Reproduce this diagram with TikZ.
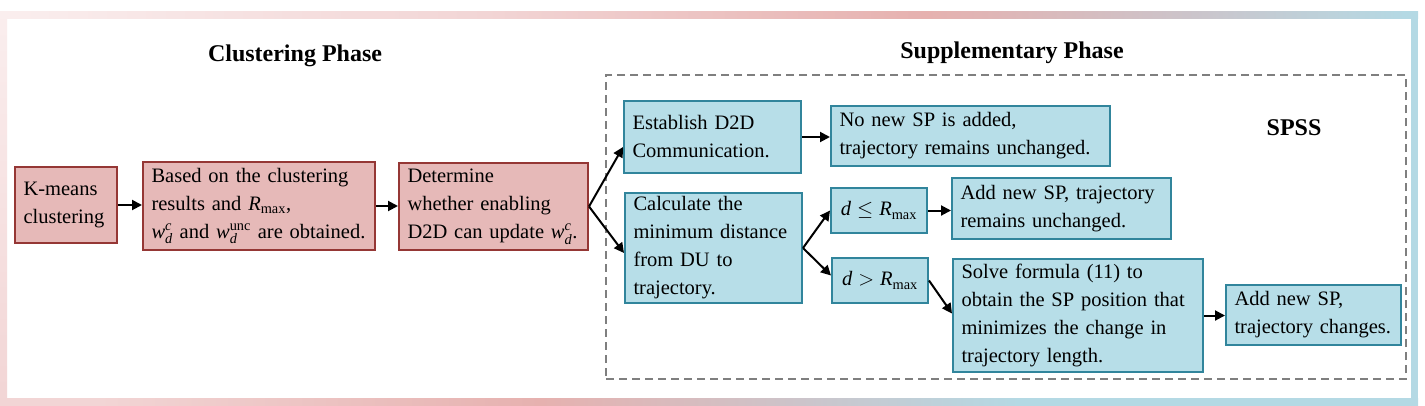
\documentclass[tikz,border=0pt]{standalone}
\usepackage{fontspec}
\usepackage{amsmath}
\setmainfont{Liberation Serif}
\usetikzlibrary{arrows.meta}
\definecolor{gc0}{HTML}{FAEEEE}
\definecolor{gc1}{HTML}{F2D5D5}
\definecolor{gc2}{HTML}{E6B1AF}
\definecolor{gc3}{HTML}{CCC4CA}
\definecolor{gc4}{HTML}{B4D9E4}
\definecolor{pfill}{HTML}{E6B9B8}
\definecolor{pline}{HTML}{953735}
\definecolor{bfill}{HTML}{B7DEE8}
\definecolor{bline}{HTML}{31859C}
\definecolor{dgray}{HTML}{7F7F7F}
\pgfdeclarehorizontalshading{topband}{100bp}{color(0bp)=(gc0); color(25bp)=(gc0); color(42.14bp)=(gc1); color(57.65bp)=(gc2); color(66.82bp)=(gc3); color(74.58bp)=(gc4); color(100bp)=(gc4)}
\pgfdeclarehorizontalshading{botband}{100bp}{color(0bp)=(gc1); color(25bp)=(gc1); color(28.5bp)=(gc1); color(44.04bp)=(gc2); color(53.2bp)=(gc3); color(60.97bp)=(gc4); color(100bp)=(gc4)}
\hyphenpenalty=10000
\exhyphenpenalty=10000
\newcommand\vi[1]{\textit{#1}}
\newcommand\bx[7]{%
  \pgfmathsetmacro\bxCX{(#3+#5)/2}\pgfmathsetmacro\bxCY{(#4+#6)/2}%
  \pgfmathsetmacro\bxW{#5-#3}\pgfmathsetmacro\bxH{#6-#4}\pgfmathsetmacro\bxT{#5-#3-17}%
  \node[#1, minimum width=\bxW pt, minimum height=\bxH pt, text width=\bxT pt] (#2) at (\bxCX,\bxCY) {#7};}
\tikzset{
  boxbase/.style={rectangle, line width=2pt, inner xsep=8.5pt, inner ysep=2pt, align=left,
    font=\fontsize{20.5}{28}\selectfont},
  pbox/.style={boxbase, draw=pline, fill=pfill},
  bbox/.style={boxbase, draw=bline, fill=bfill},
  cbox/.style={bbox, align=center},
  title/.style={font=\fontsize{24}{28}\selectfont\bfseries},
  arr/.style={line width=2pt, -{Triangle[length=10pt,width=10pt]}},
  dashbox/.style={draw=dgray, line width=2pt, dash pattern=on 8pt off 5pt, rectangle, inner sep=0pt}
}
\begin{document}
\begin{tikzpicture}[x=1pt,y=-1pt]
\useasboundingbox (0,0) rectangle (1425,405);
% frame
\fill[white] (0,11) rectangle (1418,405);
\shade[shading=topband] (0,11) rectangle (1418,18);
\shade[shading=botband] (0,398) rectangle (1418,405);
\shade[top color=gc0, bottom color=gc1] (0,11) rectangle (7,405);
\fill[gc4] (1411,11) rectangle (1418,405);
% titles
\node[title] (t1) at (295,56) {Clustering Phase};
\node[title] (t2) at (1012,53) {Supplementary Phase};
\node[dashbox, minimum width=800pt, minimum height=304pt] (spz) at (1006,227) {};
\node[title] (t3) at (1294,128) {SPSS};
% clustering boxes
\bx{pbox}{k}{15}{167}{117}{243}{K-means\\clustering}
\bx{pbox}{b2}{143}{162}{375}{250}{Based on the clustering\\results and $\vi{R}_{\text{max}}$,\\$\vi{w}_{\vi{d}}^{\vi{c}}$ and $\vi{w}_{\vi{d}}^{\text{unc}}$ are obtained.}
\bx{pbox}{b3}{399}{163}{588}{250}{Determine\\whether enabling\\D2D can update $\vi{w}_{\vi{d}}^{\vi{c}}$.}
% supplementary boxes
\bx{bbox}{e}{624}{101}{801}{173}{Establish D2D\\Communication.}
\bx{bbox}{n}{831}{106}{1110}{166}{No new SP is added,\\trajectory remains unchanged.}
\bx{bbox}{c}{625}{193}{802}{303}{Calculate the\\minimum distance\\from DU to\\trajectory.}
\bx{cbox}{d1}{831}{188}{927}{233}{$\vi{d}\le \vi{R}_{\text{max}}$}
\bx{cbox}{d2}{832}{258}{928}{303}{$\vi{d} > \vi{R}_{\text{max}}$}
\bx{bbox}{a1}{952}{178}{1171}{239}{Add new SP, trajectory\\remains unchanged.}
\bx{bbox}{s}{953}{259}{1203}{372}{Solve formula (11) to\\obtain the SP position that\\minimizes the change in\\trajectory length.}
\bx{bbox}{a2}{1226}{285}{1401}{345}{Add new SP,\\trajectory changes.}
% connectors
\draw[arr] (k.east) -- (k.east -| b2.west);
\draw[arr] (b2.east) -- (b2.east -| b3.west);
\draw[arr] (b3.east) -- ([yshift=-10pt]e.west);
\draw[arr] (b3.east) -- ([yshift=-5pt]c.west);
\draw[arr] (e.east) -- (e.east -| n.west);
\draw[arr] (c.east) -- (d1.west);
\draw[arr] (c.east) -- ([yshift=5pt]d2.west);
\draw[arr] (d1.east) -- (d1.east -| a1.west);
\draw[arr] (d2.east) -- ([yshift=2pt]s.west);
\draw[arr] (s.east) -- (s.east -| a2.west);
\end{tikzpicture}
\end{document}
